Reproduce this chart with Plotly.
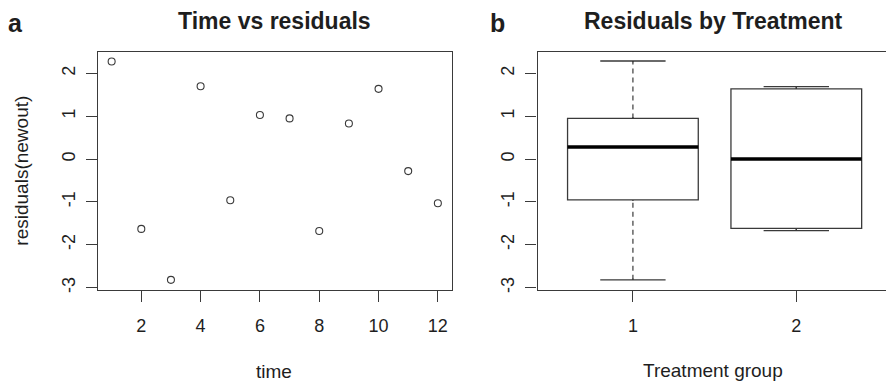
import plotly.graph_objects as go

# ---------------- data ----------------
time = [1, 2, 3, 4, 5, 6, 7, 8, 9, 10, 11, 12]
residuals = [2.28, -1.63, -2.82, 1.70, -0.96, 1.03, 0.95, -1.68, 0.83, 1.64, -0.28, -1.03]

groups = [1, 2]
lower_whisker = [-2.82, -1.67]
q1 = [-0.95, -1.62]
median = [0.28, 0.00]
q3 = [0.95, 1.64]
upper_whisker = [2.29, 1.69]

x_ticks_a = [2, 4, 6, 8, 10, 12]
y_ticks = [-3, -2, -1, 0, 1, 2]
x_ticks_b = [1, 2]

# ---------------- style ----------------
W, H = 886, 384
LINE = "#3a3a3a"
TEXT = "#1e1e1e"
FONT = "Liberation Sans, Arial, sans-serif"
BOX_W = 0.8
EPS = 0.03


def fx(p):
    return p / W


def fy(p):
    return 1 - p / H


fig = go.Figure()

# panel a: scatter
fig.add_trace(go.Scatter(
    x=time, y=residuals, mode="markers",
    marker=dict(symbol="circle-open", size=7, color=LINE, line=dict(width=1.1)),
    xaxis="x", yaxis="y", showlegend=False, hoverinfo="x+y"))

# panel b: boxes
fig.add_trace(go.Box(
    x=groups, q1=q1, median=median, q3=q3,
    lowerfence=lower_whisker, upperfence=upper_whisker,
    width=BOX_W, whiskerwidth=0.5, fillcolor="white",
    line=dict(color=LINE, width=1.3), boxpoints=False,
    xaxis="x2", yaxis="y2", showlegend=False))

# white out solid whiskers, then redraw them dashed
wx, wy = [], []
for g, lo, a, b, up in zip(groups, lower_whisker, q1, q3, upper_whisker):
    if up - b > 2 * EPS:
        wx += [g, g, None]
        wy += [b + EPS, up - EPS, None]
    if a - lo > 2 * EPS:
        wx += [g, g, None]
        wy += [lo + EPS, a - EPS, None]
fig.add_trace(go.Scatter(x=wx, y=wy, mode="lines", line=dict(color="white", width=3),
                         xaxis="x2", yaxis="y2", showlegend=False, hoverinfo="skip"))
dx, dy = [], []
for g, lo, a, b, up in zip(groups, lower_whisker, q1, q3, upper_whisker):
    dx += [g, g, None, g, g, None]
    dy += [b, up, None, lo, a, None]
fig.add_trace(go.Scatter(x=dx, y=dy, mode="lines",
                         line=dict(color=LINE, width=1.2, dash="5px,4px"),
                         xaxis="x2", yaxis="y2", showlegend=False, hoverinfo="skip"))

# thick medians
mx, my = [], []
for g, m in zip(groups, median):
    mx += [g - BOX_W / 2, g + BOX_W / 2, None]
    my += [m, m, None]
fig.add_trace(go.Scatter(x=mx, y=my, mode="lines", line=dict(color="black", width=3.5),
                         xaxis="x2", yaxis="y2", showlegend=False, hoverinfo="skip"))

axis_common = dict(
    showgrid=False, zeroline=False, showline=True, linecolor=LINE, linewidth=1.2,
    ticks="outside", ticklen=11, tickwidth=1.2, tickcolor=LINE,
    tickfont=dict(family=FONT, size=18, color=TEXT),
)

y_dom = [fy(292), fy(52)]
y_text = [str(v) for v in y_ticks]

fig.update_layout(
    width=W, height=H, margin=dict(l=0, r=0, t=0, b=0),
    paper_bgcolor="white", plot_bgcolor="white",
    font=dict(family=FONT, color=TEXT),
    xaxis=dict(domain=[fx(98), fx(451.5)], range=[0.54, 12.46], anchor="y",
               tickvals=x_ticks_a, ticktext=[str(v) for v in x_ticks_a],
               mirror=True, ticklabelstandoff=9, **axis_common),
    yaxis=dict(domain=y_dom, range=[-3.05, 2.51], anchor="x",
               tickvals=y_ticks, ticktext=y_text, tickangle=-90,
               mirror=True, ticklabelstandoff=4, **axis_common),
    xaxis2=dict(domain=[fx(537.5), 1.0], range=[0.416, 2.549], anchor="y2",
                tickvals=x_ticks_b, ticktext=[str(v) for v in x_ticks_b],
                mirror=True, ticklabelstandoff=9, **axis_common),
    yaxis2=dict(domain=y_dom, range=[-3.05, 2.51], anchor="x2",
                tickvals=y_ticks, ticktext=y_text, tickangle=-90,
                mirror=False, ticklabelstandoff=4, **axis_common),
)

ann = [
    dict(text="<b>Time vs residuals</b>", x=fx(274.7), y=fy(21), size=23),
    dict(text="<b>Residuals by Treatment</b>", x=fx(713), y=fy(21), size=23),
    dict(text="<b>a</b>", x=fx(15.5), y=fy(23.5), size=25),
    dict(text="<b>b</b>", x=fx(497.5), y=fy(23), size=25),
    dict(text="time", x=fx(274), y=fy(374), size=19),
    dict(text="Treatment group", x=fx(713.3), y=fy(373.5), size=19),
]
for a in ann:
    fig.add_annotation(text=a["text"], x=a["x"], y=a["y"], xref="paper", yref="paper",
                       xanchor="center", yanchor="middle", showarrow=False,
                       font=dict(family=FONT, size=a["size"], color=TEXT))
fig.add_annotation(text="residuals(newout)", x=fx(22), y=fy(172), xref="paper", yref="paper",
                   xanchor="center", yanchor="middle", showarrow=False, textangle=-90,
                   font=dict(family=FONT, size=19, color=TEXT))

fig.write_html("out.html")
